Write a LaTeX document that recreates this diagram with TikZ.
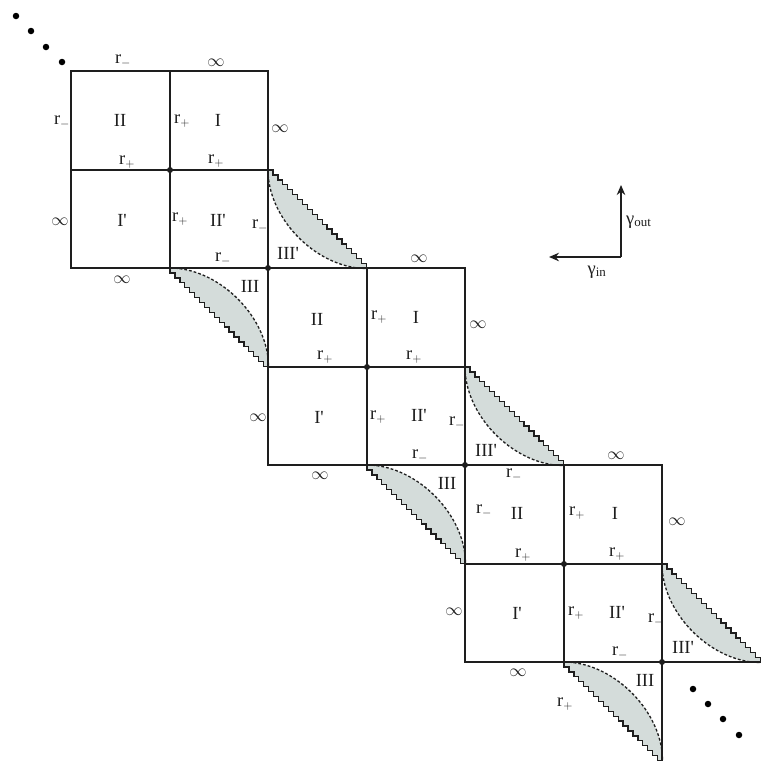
\documentclass[tikz,border=0pt]{standalone}
\usepackage{fontspec}
\setmainfont{Liberation Serif}[Ligatures=TeXOff]
\usetikzlibrary{arrows.meta}
\definecolor{lensgrey}{RGB}{212,220,218}
\definecolor{ink}{RGB}{30,30,30}
\newcommand\lensA[3]{% III' : staircase corners upper-right, curve toward lower-left
  \fill[lensgrey] (#1,#2) \foreach \i in {1,...,20}{ -- ++(4.925,0) -- ++(0,4.925)}
     .. controls ({#1+49.25},{#2+98.5}) and (#1,{#2+49.25}) .. (#1,#2) -- cycle;
  \draw[stair] (#1,#2) \foreach \i in {1,...,20}{ -- ++(4.925,0) -- ++(0,4.925)};
  \draw[dashcurve] (#1,#2) .. controls (#1,{#2+49.25}) and ({#1+49.25},{#2+98.5}) .. ({#1+98.5},{#2+98.5});
  \coordinate (#3) at ({#1+98.5},{#2+98.5});
}
\newcommand\lensB[3]{% III : staircase corners lower-left, curve toward upper-right
  \fill[lensgrey] (#1,#2) \foreach \i in {1,...,20}{ -- ++(0,4.925) -- ++(4.925,0)}
     .. controls ({#1+98.5},{#2+49.25}) and ({#1+49.25},#2) .. (#1,#2) -- cycle;
  \draw[stair] (#1,#2) \foreach \i in {1,...,20}{ -- ++(0,4.925) -- ++(4.925,0)};
  \draw[dashcurve] (#1,#2) .. controls ({#1+49.25},#2) and ({#1+98.5},{#2+49.25}) .. ({#1+98.5},{#2+98.5});
  \coordinate (#3) at ({#1+98.5},{#2+98.5});
}
\begin{document}
\begin{tikzpicture}[x=1pt,y=-1pt,
  edge/.style={line width=1.7pt, draw=ink},
  stair/.style={line width=1.3pt, draw=ink, line join=miter},
  dashcurve/.style={line width=1.3pt, draw=ink, dash pattern=on 2.8pt off 2pt},
  lbl/.style={font=\fontsize{18.5}{22}\selectfont, inner sep=0pt, text=ink},
  vdot/.style={circle, fill=ink, inner sep=0pt, minimum size=6pt},
  edot/.style={circle, fill=black, inner sep=0pt, minimum size=6.5pt},
  axis/.style={line width=1.6pt, draw=ink, -{Stealth[length=10pt,width=8.5pt]}}]
\useasboundingbox (0,0) rectangle (763,763);

% lenses (drawn first, under the edges)
\lensA{268}{170}{la1}
\lensB{170}{268}{lb1}
\lensA{465}{367}{la2}
\lensB{367}{465}{lb2}
\lensA{662}{564}{la3}
\lensB{564}{662}{lb3}

% blocks of four squares
\foreach \o in {71,268,465}{
  \draw[edge] (\o,\o) rectangle ({\o+197},{\o+197});
  \draw[edge] ({\o+99},\o) -- ({\o+99},{\o+197});
  \draw[edge] (\o,{\o+99}) -- ({\o+197},{\o+99});
}
\coordinate (c4) at (662,662);
\coordinate (c4r) at (760,662);
\coordinate (c4d) at (662,760);
\draw[edge] (c4) -- (c4r);
\draw[edge] (c4) -- (c4d);

% vertex dots on the diagonal
\foreach \p [count=\k] in {170,268,367,465,564,662}
  \node[vdot] (v\k) at (\p,\p) {};

% ellipsis dots
\foreach \x/\y [count=\k] in {16/16,31/31,46/47,62/62}
  \node[edot] (tl\k) at (\x,\y) {};
\foreach \x/\y [count=\k] in {693/689,708/704,723/719,739/735}
  \node[edot] (br\k) at (\x,\y) {};

% axes
\coordinate (ax0) at (621,257);
\coordinate (axu) at (621,185);
\coordinate (axl) at (549,257);
\draw[axis] (ax0) -- (axu);
\draw[axis] (ax0) -- (axl);
\node[lbl, anchor=west] (gout) at (626,222) {γ\textsubscript{out}};
\node[lbl] (gin) at (597,272) {γ\textsubscript{in}};

% block 1 labels
\node[lbl] (a1) at (123,61) {r$_-$};
\node[lbl] (a2) at (216,63) {$\infty$};
\node[lbl] (a3) at (62,122) {r$_-$};
\node[lbl] (a4) at (120,120) {II};
\node[lbl] (a5) at (182,121) {r$_+$};
\node[lbl] (a6) at (218,120) {I};
\node[lbl] (a7) at (280,129) {$\infty$};
\node[lbl] (a8) at (127,162) {r$_+$};
\node[lbl] (a9) at (216,161) {r$_+$};
\node[lbl] (a10) at (60,222) {$\infty$};
\node[lbl] (a11) at (122,220) {I'};
\node[lbl] (a12) at (180,219) {r$_+$};
\node[lbl] (a13) at (218,220) {II'};
\node[lbl] (a14) at (260,226) {r$_-$};
\node[lbl] (a15) at (223,259) {r$_-$};
\node[lbl] (a16) at (122,280) {$\infty$};
\node[lbl] (a17) at (288,253) {III'};
\node[lbl] (a18) at (250,286) {III};

% block 2 labels
\node[lbl] (b1) at (419,259) {$\infty$};
\node[lbl] (b2) at (317,319) {II};
\node[lbl] (b3) at (379,317) {r$_+$};
\node[lbl] (b4) at (416,317) {I};
\node[lbl] (b5) at (478,325) {$\infty$};
\node[lbl] (b6) at (325,357) {r$_+$};
\node[lbl] (b7) at (414,357) {r$_+$};
\node[lbl] (b8) at (258,418) {$\infty$};
\node[lbl] (b9) at (319,417) {I'};
\node[lbl] (b10) at (378,417) {r$_+$};
\node[lbl] (b11) at (419,415) {II'};
\node[lbl] (b12) at (457,423) {r$_-$};
\node[lbl] (b13) at (420,456) {r$_-$};
\node[lbl] (b14) at (320,476) {$\infty$};
\node[lbl] (b15) at (486,450) {III'};
\node[lbl] (b16) at (447,483) {III};

% block 3 labels
\node[lbl] (d1) at (514,475) {r$_-$};
\node[lbl] (d2) at (484,511) {r$_-$};
\node[lbl] (d3) at (517,513) {II};
\node[lbl] (d4) at (577,513) {r$_+$};
\node[lbl] (d5) at (615,513) {I};
\node[lbl] (d6) at (616,456) {$\infty$};
\node[lbl] (d7) at (677,522) {$\infty$};
\node[lbl] (d8) at (523,555) {r$_+$};
\node[lbl] (d9) at (617,554) {r$_+$};
\node[lbl] (d10) at (454,612) {$\infty$};
\node[lbl] (d11) at (517,613) {I'};
\node[lbl] (d12) at (576,613) {r$_+$};
\node[lbl] (d13) at (617,612) {II'};
\node[lbl] (d14) at (656,620) {r$_-$};
\node[lbl] (d15) at (620,653) {r$_-$};
\node[lbl] (d16) at (518,673) {$\infty$};
\node[lbl] (d17) at (683,647) {III'};
\node[lbl] (d18) at (645,680) {III};
\node[lbl] (d19) at (565,704) {r$_+$};
\end{tikzpicture}
\end{document}
